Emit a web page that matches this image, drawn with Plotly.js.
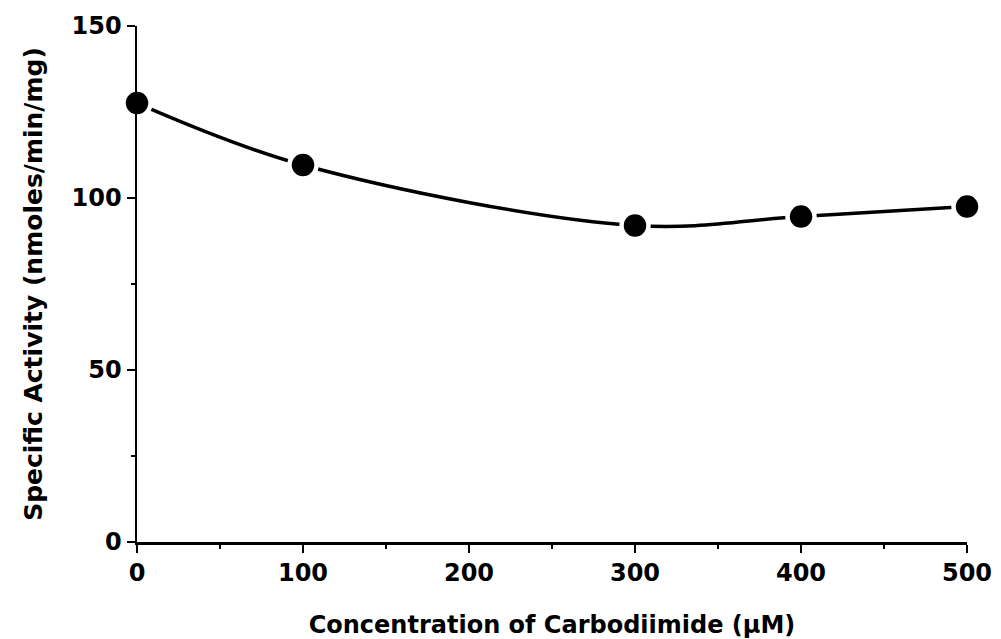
<!DOCTYPE html>
<html>
<head>
<meta charset="utf-8">
<script src="https://cdn.plot.ly/plotly-3.0.1.min.js"></script>
<style>
html,body{margin:0;padding:0;background:#fff;}
#chart{width:1001px;height:639px;}
</style>
</head>
<body>
<div id="chart"></div>
<script>
const concentration = [0, 100, 300, 400, 500];
const activity = [127.6, 109.6, 92.0, 94.6, 97.5];
const xTickVals = [0, 100, 200, 300, 400, 500];
const yTickVals = [0, 50, 100, 150];

const FONT = '"DejaVu Sans", sans-serif';

const traces = [
  {
    x: concentration, y: activity,
    mode: 'lines',
    line: {shape: 'spline', smoothing: 1, color: '#000', width: 3.5},
    hoverinfo: 'skip', showlegend: false, cliponaxis: false
  },
  {
    x: concentration, y: activity,
    mode: 'markers',
    marker: {size: 27, color: '#000', line: {color: '#fff', width: 4.5}},
    showlegend: false, cliponaxis: false
  }
];

const layout = {
  width: 1001, height: 639,
  margin: {l: 137, r: 34, t: 26, b: 97},
  paper_bgcolor: '#fff', plot_bgcolor: '#fff',
  font: {family: FONT, color: '#000'},
  showlegend: false,
  xaxis: {
    range: [0, 500],
    tickvals: xTickVals,
    ticktext: xTickVals.map(String),
    showgrid: false, zeroline: false,
    showline: true, linecolor: '#000', linewidth: 2.5,
    ticks: 'outside', ticklen: 8, tickwidth: 2.5, tickcolor: '#000',
    minor: {dtick: 50, tick0: 0, ticks: 'outside', ticklen: 4, tickwidth: 2, tickcolor: '#000', showgrid: false},
    tickfont: {family: FONT, size: 24, color: '#000', weight: 'bold'},
    title: {text: 'Concentration of Carbodiimide (μM)', font: {family: FONT, size: 24, color: '#000', weight: 'bold'}, standoff: 30}
  },
  yaxis: {
    range: [0, 150],
    tickvals: yTickVals,
    ticktext: yTickVals.map(String),
    showgrid: false, zeroline: false,
    showline: true, linecolor: '#000', linewidth: 2.5,
    ticks: 'outside', ticklen: 8, tickwidth: 2.5, tickcolor: '#000',
    minor: {dtick: 25, tick0: 0, ticks: 'outside', ticklen: 4, tickwidth: 2, tickcolor: '#000', showgrid: false},
    tickfont: {family: FONT, size: 24, color: '#000', weight: 'bold'},
    title: {text: 'Specific Activity (nmoles/min/mg)', font: {family: FONT, size: 25, color: '#000', weight: 'bold'}, standoff: 22}
  }
};

Plotly.newPlot('chart', traces, layout, {displayModeBar: false, staticPlot: true});
</script>
</body>
</html>
